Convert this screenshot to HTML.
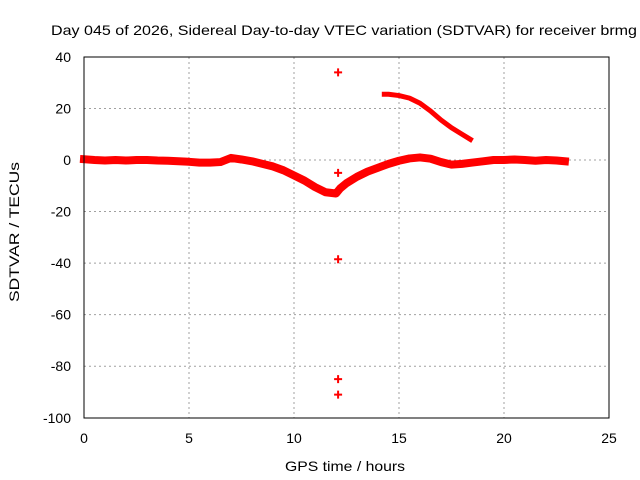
<!DOCTYPE html>
<html><head><meta charset="utf-8"><style>
body{margin:0;background:#fff}
svg{display:block;font-family:"Liberation Sans",sans-serif}
</style></head><body>
<svg id="chart" width="640" height="480" xmlns="http://www.w3.org/2000/svg">
<text x="51" y="35" font-size="14" textLength="586" lengthAdjust="spacingAndGlyphs">Day 045 of 2026, Sidereal Day-to-day VTEC variation (SDTVAR) for receiver brmg</text>
<text transform="translate(19,302) rotate(-90)" font-size="14" textLength="140" lengthAdjust="spacingAndGlyphs">SDTVAR / TECUs</text>
<text x="285" y="471" font-size="14" textLength="120" lengthAdjust="spacingAndGlyphs">GPS time / hours</text>
<g id="grid"></g><g id="ticks"></g><g id="marks"></g>
<rect x="84" y="57" width="525" height="361" fill="none" stroke="#000" stroke-width="1"/>
</svg>
<script>
const xTicks=[0,5,10,15,20,25];
const yTicks=[40,20,0,-20,-40,-60,-80,-100];
const mainT=[0,0.5,1,1.5,2,2.5,3,3.5,4,4.5,5,5.5,6,6.5,7,7.5,8,8.5,9,9.5,10,10.5,11,11.5,12,12.2,12.5,13,13.5,14,14.5,15,15.5,16,16.5,17,17.5,18,18.5,19,19.5,20,20.5,21,21.5,22,22.5,22.9];
const mainV=[0.3,0,-0.2,0,-0.2,0,0,-0.2,-0.3,-0.5,-0.7,-1,-1,-0.8,0.8,0.2,-0.5,-1.5,-2.5,-4,-6,-8,-10.5,-12.5,-13,-11,-9,-6.5,-4.5,-3,-1.5,-0.3,0.6,1,0.5,-0.8,-1.8,-1.5,-1,-0.5,0,0,0.2,0,-0.3,0,-0.2,-0.5];
const arcT=[14.3,14.5,15,15.5,16,16.5,17,17.5,18,18.4];
const arcV=[25.5,25.5,25,24,22,19,15.5,12.5,10,8];
const outT=[12.1,12.1,12.1,12.1,12.1];
const outV=[34,-5,-38.5,-85,-91];
const X=t=>84+t*21, Y=v=>160-v*2.578;
const NS="http://www.w3.org/2000/svg";
function mk(tag,parent,attrs){const e=document.createElementNS(NS,tag);for(const k in attrs)e.setAttribute(k,attrs[k]);parent.appendChild(e);return e;}
const grid=document.getElementById('grid'),ticks=document.getElementById('ticks'),marks=document.getElementById('marks');
xTicks.forEach(t=>{
 if(t>0&&t<25){const g=mk('line',grid,{x1:X(t),x2:X(t),y1:57,y2:418,stroke:'#a0a0a0','stroke-dasharray':'2,3'});
 
 }
 const l=mk('text',ticks,{x:X(t),y:443,'font-size':14,'text-anchor':'middle'});l.textContent=t;
 
 
});
yTicks.forEach(v=>{
 if(v<40&&v>-100){const g=mk('line',grid,{x1:84,x2:609,y1:Y(v),y2:Y(v),stroke:'#a0a0a0','stroke-dasharray':'2,3'});
 
 }
 const l=mk('text',ticks,{x:71,y:Y(v)+5,'font-size':14,'text-anchor':'end'});l.textContent=v;
 
 
});
function band(T,V,w,name){
 const p=mk('polyline',marks,{points:T.map((t,i)=>X(t)+','+Y(V[i])).join(' '),fill:'none',stroke:'#f00','stroke-width':w,'stroke-linejoin':'round','stroke-linecap':'square'});
 
 
}
band(mainT,mainV,8,'main-series-band');
band(arcT,arcV,5,'upper-arc-series');
outT.forEach((t,i)=>{
 const x=X(t),y=Y(outV[i]);
 const p=mk('path',marks,{d:`M${x-4},${y}H${x+4}M${x},${y-4}V${y+4}`,stroke:'#f00','stroke-width':2});
 
 
});
</script>
</body></html>
